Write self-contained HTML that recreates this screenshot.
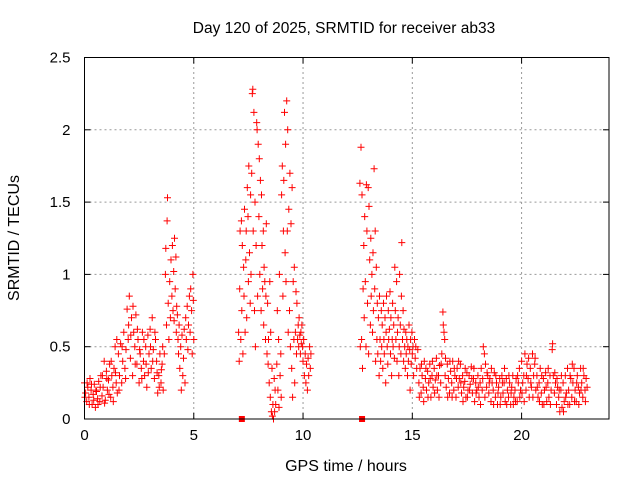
<!DOCTYPE html>
<html><head><meta charset="utf-8"><style>
html,body{margin:0;padding:0;background:#fff;}
svg{display:block;font-family:"Liberation Sans",sans-serif;}
</style></head><body>
<svg id="chart" width="640" height="480" viewBox="0 0 640 480" xmlns="http://www.w3.org/2000/svg">
<rect width="640" height="480" fill="#fff"/>
<text x="344" y="33" font-size="15.5" text-anchor="middle" fill="#000">Day 120 of 2025, SRMTID for receiver ab33</text>
<text x="0" y="0" font-size="16" text-anchor="middle" transform="translate(19,238) rotate(-90)">SRMTID / TECUs</text>
<text x="346" y="471" font-size="16" text-anchor="middle">GPS time / hours</text>
<g id="grid"></g><g id="ticks"></g><g id="marks"></g>
<rect x="84.5" y="57.5" width="524.5" height="361.5" fill="none" stroke="#000" stroke-width="1"/>
</svg>
<script>
const xTicks=[0,5,10,15,20];
const yTicks=[0,0.5,1,1.5,2,2.5];
const yTickLabels=["0","0.5","1","1.5","2","2.5"];
const zeroTimes=[7.2,12.7];
const times=[0.0,0.05,0.1,0.15,0.2,0.25,0.3,0.35,0.4,0.45,0.5,0.55,0.6,0.65,0.7,0.75,0.8,0.85,0.9,0.95,1.0,1.05,1.1,1.15,1.2,1.25,1.3,1.35,1.4,1.45,1.5,
0.02,0.12,0.22,0.32,0.42,0.52,0.62,0.72,0.82,0.92,1.02,1.12,1.22,1.32,1.42,1.48,
1.55,1.6,1.65,1.7,1.75,1.8,1.85,1.9,1.95,2.0,2.05,2.1,2.15,2.2,2.25,2.3,2.35,2.4,2.45,2.5,2.55,2.6,2.65,2.7,2.75,2.8,2.85,2.9,2.95,3.0,3.05,3.1,3.15,3.2,3.25,3.3,3.35,3.4,3.45,3.5,3.55,3.6,
1.58,1.72,1.88,2.02,2.12,2.22,2.32,2.42,2.52,2.62,2.72,2.82,2.92,3.02,3.12,3.22,3.32,3.42,3.52,3.58,
3.65,3.7,3.72,3.75,3.78,3.8,3.83,3.86,3.9,3.93,3.96,4.0,4.02,4.05,4.08,4.1,4.12,4.15,4.18,4.2,4.22,4.25,4.28,4.3,4.33,4.36,4.4,4.43,4.46,4.5,4.53,4.56,4.6,4.63,4.66,4.7,4.73,4.76,4.8,4.83,4.86,4.9,4.93,4.96,4.98,5.0,
7.05,7.08,7.1,7.12,7.15,7.18,7.2,7.22,7.25,7.28,7.3,7.32,7.35,7.38,7.4,7.42,7.45,7.48,7.5,7.52,7.55,7.58,7.6,7.62,7.65,7.68,7.7,7.72,7.75,7.78,7.8,7.82,7.85,7.88,7.9,7.92,7.95,7.98,8.0,8.02,8.05,8.08,8.1,8.12,8.15,8.18,8.2,8.22,8.25,8.28,8.3,8.32,8.35,8.38,8.4,8.42,8.45,8.48,8.5,8.52,8.55,8.58,8.6,8.62,8.65,8.68,8.7,8.72,8.75,
8.8,8.82,8.85,8.88,8.9,8.92,8.95,8.98,9.0,9.02,9.05,9.08,9.1,9.12,9.15,9.18,9.2,9.22,9.25,9.28,9.3,9.32,9.35,9.38,9.4,9.42,9.45,9.48,9.5,9.52,9.55,9.58,9.6,9.62,9.65,9.68,9.7,9.72,9.75,9.78,9.8,9.82,9.85,9.88,9.9,9.92,9.95,9.98,10.0,10.03,10.06,10.1,10.13,10.16,10.2,10.23,10.26,10.3,10.33,10.36,
12.6,12.62,12.65,12.68,12.7,12.72,12.75,12.78,12.8,12.82,12.85,12.88,12.9,12.92,12.95,12.98,13.0,13.02,13.05,13.08,13.1,13.12,13.15,13.18,13.2,13.22,13.25,13.28,13.3,13.32,13.35,13.38,13.4,13.42,13.45,13.48,13.5,13.52,13.55,13.58,13.6,13.62,13.65,13.68,13.7,13.72,13.75,13.78,13.8,13.82,13.85,13.88,13.9,13.92,13.95,13.98,14.0,14.02,14.05,14.08,14.1,14.12,14.15,14.18,14.2,14.22,14.25,14.28,14.3,14.32,14.35,14.38,14.4,14.42,14.45,14.48,14.5,14.52,14.55,14.58,14.6,14.62,14.65,14.68,14.7,14.72,14.75,14.78,14.8,14.82,14.85,14.88,14.9,14.92,14.95,14.98,15.0,15.03,15.06,15.1,15.13,15.16,15.2,15.25,
15.3,15.35,15.4,15.45,15.5,15.55,15.6,15.65,15.7,15.75,15.8,15.85,15.9,15.95,16.0,16.05,16.1,16.15,16.2,16.25,16.3,16.35,16.4,16.42,16.45,16.48,16.5,16.55,16.6,16.65,16.7,16.75,16.8,16.85,16.9,16.95,17.0,17.05,17.1,17.15,17.2,17.25,17.3,17.35,17.4,17.45,17.5,17.55,17.6,17.65,17.7,17.75,17.8,17.85,17.9,17.95,18.0,18.05,18.1,18.15,18.2,18.25,18.3,18.35,18.4,18.45,18.5,18.55,18.6,18.65,18.7,18.75,18.8,18.85,18.9,18.95,19.0,19.05,19.1,19.15,19.2,19.25,19.3,19.35,19.4,19.45,19.5,19.55,19.6,19.65,19.7,19.75,19.8,19.85,19.9,19.95,20.0,20.05,20.1,20.15,20.2,20.25,20.3,20.35,20.4,20.45,20.5,20.55,20.6,20.65,20.7,20.75,20.8,20.85,20.9,20.95,21.0,21.05,21.1,21.15,21.2,21.25,21.3,21.35,21.4,21.42,21.45,21.5,21.55,21.6,21.65,21.7,21.75,21.8,21.85,21.9,21.95,22.0,22.05,22.1,22.15,22.2,22.25,22.3,22.35,22.4,22.45,22.5,22.55,22.6,22.65,22.7,22.75,22.8,22.85,22.9,22.95,23.0,
15.32,15.42,15.52,15.62,15.72,15.82,15.92,16.02,16.12,16.22,16.32,16.52,16.62,16.72,16.82,16.92,17.02,17.12,17.22,17.32,17.42,17.52,17.62,17.72,17.82,17.92,18.02,18.12,18.22,18.32,18.42,18.52,18.62,18.72,18.82,18.92,19.02,19.12,19.22,19.32,19.42,19.52,19.62,19.72,19.82,19.92,20.02,20.12,20.22,20.32,20.42,20.52,20.62,20.72,20.82,20.92,21.02,21.12,21.22,21.32,21.52,21.62,21.72,21.82,21.92,22.02,22.12,22.22,22.32,22.42,22.52,22.62,22.72,22.82,22.92];
const values=[0.25,0.18,0.12,0.22,0.15,0.28,0.2,0.1,0.17,0.24,0.08,0.19,0.14,0.26,0.12,0.3,0.16,0.22,0.4,0.13,0.33,0.2,0.27,0.38,0.15,0.3,0.22,0.35,0.5,0.25,0.18,
0.15,0.25,0.1,0.24,0.13,0.2,0.1,0.22,0.3,0.11,0.28,0.17,0.4,0.12,0.32,0.55,
0.45,0.3,0.52,0.25,0.4,0.6,0.35,0.48,0.76,0.55,0.85,0.42,0.7,0.3,0.6,0.5,0.72,0.38,0.55,0.25,0.45,0.35,0.6,0.4,0.3,0.5,0.22,0.58,0.45,0.62,0.35,0.7,0.48,0.28,0.55,0.4,0.18,0.3,0.45,0.25,0.38,0.2,
0.2,0.5,0.28,0.65,0.58,0.78,0.38,0.62,0.48,0.28,0.55,0.38,0.32,0.5,0.4,0.6,0.32,0.22,0.34,0.5,
0.45,1.0,1.18,0.65,1.37,1.53,0.8,0.55,0.95,0.7,1.1,0.85,1.2,0.75,1.02,0.68,1.25,0.9,1.12,0.6,0.78,0.72,0.55,0.45,0.65,0.35,0.5,0.2,0.58,0.3,0.42,0.62,0.25,0.7,0.55,0.78,0.48,0.65,0.85,0.6,0.9,0.75,0.45,1.0,0.82,0.55,
0.6,0.4,0.9,1.3,0.55,1.37,0.75,1.2,0.45,1.05,0.85,1.45,0.6,1.1,1.3,0.7,1.6,1.4,0.95,1.75,1.15,0.8,1.55,1.0,1.7,2.25,2.28,1.3,2.12,0.75,1.5,0.5,1.2,2.05,2.0,0.85,1.9,1.4,1.8,1.0,1.65,0.75,1.55,1.2,0.9,1.3,0.65,1.05,0.95,0.55,0.85,1.35,0.45,0.8,0.38,0.55,0.25,0.95,0.15,0.6,0.05,0.35,0.02,0.1,0.0,0.28,0.05,0.2,0.1,
0.38,0.75,0.2,0.55,0.08,1.0,0.3,0.45,0.15,1.55,1.75,0.85,1.3,1.65,2.12,1.15,1.9,0.95,2.2,1.3,2.0,0.6,1.45,0.75,1.7,0.5,1.35,0.35,1.6,0.15,0.95,0.55,1.05,0.25,0.6,0.88,0.45,0.8,0.55,0.65,0.5,0.7,0.58,0.45,0.6,0.52,0.65,0.5,0.4,0.55,0.3,0.45,0.25,0.38,0.2,0.42,0.3,0.5,0.35,0.45,
1.63,0.5,1.88,0.55,1.55,0.35,0.9,1.2,0.7,1.4,0.95,0.5,1.62,1.3,0.8,1.6,0.45,1.47,1.1,0.65,1.25,0.85,1.0,0.6,1.15,0.75,1.73,0.9,1.3,0.4,1.05,0.55,0.8,0.45,0.7,0.3,0.85,0.55,0.4,0.75,0.5,0.65,0.35,0.8,0.55,0.45,0.7,0.25,0.6,0.85,0.5,0.38,0.75,0.55,0.62,0.88,0.45,0.7,0.3,0.55,0.8,0.5,0.65,0.42,1.05,0.75,0.55,0.95,0.4,0.6,0.7,0.3,0.5,1.0,0.65,0.45,0.85,1.22,0.55,0.75,0.4,0.62,0.5,0.35,0.6,0.45,0.55,0.3,0.5,0.4,0.65,0.48,0.2,0.55,0.38,0.6,0.45,0.5,0.3,0.55,0.42,0.5,0.35,0.48,
0.25,0.35,0.18,0.3,0.22,0.4,0.28,0.2,0.33,0.25,0.38,0.15,0.3,0.22,0.35,0.27,0.42,0.2,0.3,0.37,0.25,0.45,0.74,0.65,0.6,0.55,0.3,0.22,0.38,0.28,0.18,0.33,0.25,0.4,0.2,0.3,0.15,0.35,0.22,0.28,0.38,0.18,0.3,0.22,0.26,0.15,0.32,0.2,0.3,0.24,0.36,0.18,0.28,0.12,0.25,0.2,0.3,0.15,0.25,0.35,0.2,0.5,0.45,0.38,0.22,0.3,0.18,0.28,0.12,0.25,0.2,0.32,0.15,0.25,0.1,0.22,0.28,0.15,0.3,0.18,0.25,0.12,0.28,0.2,0.15,0.25,0.1,0.22,0.3,0.15,0.2,0.28,0.12,0.25,0.35,0.2,0.4,0.25,0.3,0.45,0.2,0.38,0.28,0.15,0.35,0.22,0.45,0.3,0.38,0.2,0.3,0.15,0.25,0.35,0.18,0.1,0.28,0.2,0.32,0.12,0.25,0.15,0.3,0.2,0.48,0.52,0.3,0.18,0.25,0.1,0.22,0.15,0.05,0.2,0.08,0.25,0.12,0.3,0.18,0.35,0.2,0.1,0.28,0.15,0.25,0.35,0.2,0.12,0.3,0.22,0.18,0.35,0.25,0.15,0.3,0.2,0.28,0.22,
0.15,0.38,0.12,0.35,0.15,0.28,0.4,0.18,0.3,0.15,0.38,0.42,0.15,0.4,0.15,0.35,0.28,0.4,0.25,0.12,0.35,0.15,0.2,0.28,0.35,0.18,0.22,0.1,0.28,0.15,0.32,0.25,0.35,0.1,0.3,0.18,0.1,0.25,0.35,0.1,0.3,0.18,0.1,0.12,0.3,0.15,0.18,0.12,0.3,0.42,0.25,0.15,0.42,0.22,0.12,0.3,0.1,0.22,0.35,0.1,0.32,0.28,0.2,0.3,0.05,0.15,0.1,0.3,0.38,0.12,0.25,0.1,0.2,0.35,0.12];

const X0=84.5,X1=609,Y0=419,Y1=57.5,XMAX=24,YMAX=2.5;
function xs(t){return X0+t/XMAX*(X1-X0);}
function ys(v){return Y0-v/YMAX*(Y0-Y1);}
const NS="http://www.w3.org/2000/svg";
function mk(tag,attrs,parent){const e=document.createElementNS(NS,tag);for(const k in attrs)e.setAttribute(k,attrs[k]);parent.appendChild(e);return e;}
const grid=document.getElementById('grid'),ticks=document.getElementById('ticks'),marks=document.getElementById('marks');
xTicks.forEach(t=>{
  const x=xs(t);
  if(t>0){const g=mk('line',{x1:x,x2:x,y1:Y0,y2:Y1,stroke:'#999','stroke-dasharray':'2,3','stroke-width':1},grid);
  
  }
  mk('line',{x1:x,x2:x,y1:Y0,y2:Y0-6,stroke:'#000'},ticks);
  mk('line',{x1:x,x2:x,y1:Y1,y2:Y1+6,stroke:'#000'},ticks);
  const l=mk('text',{x:x,y:Y0+21,'font-size':15,'text-anchor':'middle'},ticks);
  l.textContent=String(t);
  
  
});
yTicks.forEach((v,i)=>{
  const y=ys(v);
  if(v>0&&v<YMAX){const g=mk('line',{x1:X0,x2:X1,y1:y,y2:y,stroke:'#999','stroke-dasharray':'2,3','stroke-width':1},grid);
  
  }
  mk('line',{x1:X0,x2:X0+6,y1:y,y2:y,stroke:'#000'},ticks);
  mk('line',{x1:X1,x2:X1-6,y1:y,y2:y,stroke:'#000'},ticks);
  const l=mk('text',{x:X0-14,y:y+5,'font-size':15,'text-anchor':'end'},ticks);
  l.textContent=yTickLabels[i];
  
  
});
let d='';
for(let i=0;i<times.length;i++){
  const x=xs(times[i]),y=ys(values[i]);
  d+=`M${(x-3.5).toFixed(1)} ${y.toFixed(1)}h7M${x.toFixed(1)} ${(y-3.5).toFixed(1)}v7`;
}
const p=mk('path',{d:d,stroke:'#f00','stroke-width':1,fill:'none'},marks);


zeroTimes.forEach(t=>{
  const r=mk('rect',{x:xs(t)-3,y:ys(0)-3,width:6,height:6,fill:'#f00'},marks);
  
  
});
</script>
</body></html>
